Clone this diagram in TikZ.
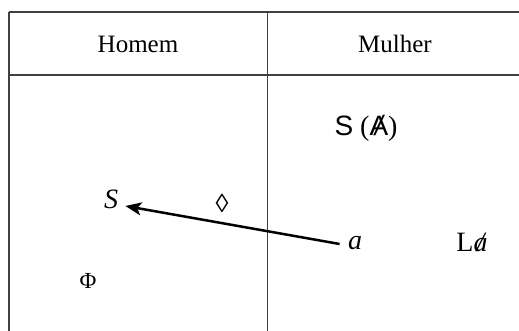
\documentclass[tikz,border=0pt]{standalone}
\usepackage{fontspec}
\setmainfont{Liberation Serif}
\newfontfamily\sansf{Liberation Sans}
\usetikzlibrary{arrows.meta, positioning, calc}
\newcommand{\slashed}[1]{\ooalign{#1\cr\hidewidth\itshape/\hidewidth}}
\tikzset{
  rule/.style={draw=black!75, line width=0.8pt},
  head/.style={font=\fontsize{12.5}{14}\selectfont, inner sep=1pt},
  sym/.style={font=\fontsize{14}{16}\selectfont, inner sep=1pt},
  link/.style={-{Stealth[length=8pt,width=6.5pt,inset=2pt]}, line width=1.25pt, draw=black},
}
\begin{document}
\begin{tikzpicture}[x=0.5pt, y=-0.5pt]
    \useasboundingbox[fill=white] (0,0) rectangle (519,331);
    \clip (0,0) rectangle (519,331);
    % table
    \draw[rule] (9,12) -- (530,12);
    \draw[rule] (9,75) -- (530,75);
    \draw[rule] (9,12) -- (9,340);
    \draw[rule] (267.5,12) -- (267.5,340);
    \node[head] (man) at (138,44) {Homem};
    \node[head] (woman) at (395,44) {Mulher};

    % symbols
    \node[sym] (barA) at (366,129) {{\sansf S} ({\sansf\slashed{A}})};
    \node[sym] (S) at (111,199) {\textit{S}};
    \node[sym, font=\fontsize{13}{15}\selectfont] (loz) at (222,203) {◊};
    \node[sym] (a) at (355,243) {\textit{a}};
    \node[sym] (La) at (472,242) {L\slashed{\textit{a}}};
    \node[sym, font=\fontsize{11.5}{13}\selectfont] (Phi) at (88,281) {Φ};

    \coordinate (start) at ($(a.west)+(-3pt,-0.5pt)$);
    \draw[link] (start) -- ($(S.east)+(2.5pt,-3.5pt)$);
  \end{tikzpicture}
\end{document}
